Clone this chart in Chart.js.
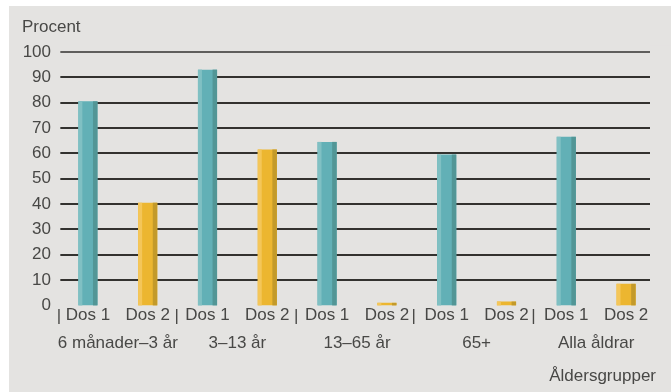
<!DOCTYPE html>
<html lang="sv">
<head>
<meta charset="utf-8">
<title>Vaccinationstäckning per åldersgrupp</title>
<script src="https://cdn.jsdelivr.net/npm/chart.js@4/dist/chart.umd.min.js"></script>
<style>
  html, body { margin: 0; padding: 0; background: #fff; }
  #wrap { width: 671px; height: 392px; }
</style>
</head>
<body>
<div id="wrap"><canvas id="chart" width="671" height="392"></canvas></div>
<script>
  // Dose under each bar, age group under each pair of bars
  const doseLabels = ["Dos 1", "Dos 2", "Dos 1", "Dos 2", "Dos 1", "Dos 2", "Dos 1", "Dos 2", "Dos 1", "Dos 2"];
  const ageGroups = ["6 månader–3 år", "3–13 år", "13–65 år", "65+", "Alla åldrar"];
  const percentValues = [80.5, 40.5, 93, 61.5, 64.5, 1, 59.5, 1.5, 66.5, 8.5];
  const yTicks = [0, 10, 20, 30, 40, 50, 60, 70, 80, 90, 100];

  const TEAL = { main: "#62b0b6", light: "#80c0c3", dark: "#529696" };
  const YELLOW = { main: "#ecb630", light: "#f4c659", dark: "#c39a2a" };
  const barTheme = (i) => (i % 2 === 0 ? TEAL : YELLOW);

  const PANEL = "#e4e3e1";
  const FONT = "'Liberation Sans', Arial, sans-serif";
  const TEXT = "#484846";
  const LABEL_FONT = { family: FONT, size: 17 };

  // Gray panel behind the whole chart
  const panel = {
    id: "panel",
    beforeDraw(chart) {
      const c = chart.ctx;
      c.save();
      c.fillStyle = PANEL;
      c.fillRect(9, 6, chart.width - 9, chart.height - 6);
      c.restore();
    },
  };

  // Horizontal rules at each y tick (none at 0, thin one at 100),
  // running from just left of the first bar to just right of the last
  const rules = {
    id: "rules",
    beforeDatasetsDraw(chart) {
      const c = chart.ctx;
      const y = chart.scales.y;
      const area = chart.chartArea;
      const bars = chart.getDatasetMeta(0).data;
      const first = bars[0];
      const last = bars[bars.length - 1];
      const x0 = first.x - first.width / 2 - 18;
      const x1 = Math.min(last.x + last.width / 2 + 15, chart.width - 21);
      c.save();
      c.strokeStyle = "#33322f";
      yTicks.forEach((v) => {
        if (v === 0) return;
        const py = Math.round(y.getPixelForValue(v));
        c.lineWidth = v === 100 ? 1.3 : 2.2;
        c.beginPath();
        c.moveTo(x0, py);
        c.lineTo(x1, py);
        c.stroke();
      });
      // keep the right margin of the plot clear
      c.fillStyle = PANEL;
      c.fillRect(x1, area.top - 6, chart.width - x1, area.bottom - area.top + 4);
      c.restore();
    },
  };

  // Light left edge and shaded right edge on every bar
  const bevel = {
    id: "bevel",
    afterDatasetsDraw(chart) {
      const c = chart.ctx;
      const meta = chart.getDatasetMeta(0);
      c.save();
      meta.data.forEach((bar, i) => {
        const t = barTheme(i);
        const left = bar.x - bar.width / 2;
        const right = bar.x + bar.width / 2;
        const h = bar.base - bar.y;
        c.fillStyle = t.light;
        c.fillRect(left, bar.y, 4, h);
        c.fillStyle = t.dark;
        c.fillRect(right - 4.5, bar.y, 4.5, h);
      });
      c.restore();
    },
  };

  // "|" between the age groups on the dose label row
  const separators = {
    id: "separators",
    afterDraw(chart) {
      const c = chart.ctx;
      const x = chart.scales.x;
      const step = x.getPixelForValue(1) - x.getPixelForValue(0);
      const labelY = x.top + 11;
      const nudge = [1, -1, -1, -3, -3];
      c.save();
      c.fillStyle = TEXT;
      c.font = "17px " + FONT;
      c.textAlign = "center";
      c.textBaseline = "middle";
      for (let i = 0; i < doseLabels.length - 1; i += 2) {
        const px = x.getPixelForValue(i) - step / 2 + nudge[i / 2];
        c.fillText("|", px, labelY);
      }
      c.restore();
    },
  };

  new Chart(document.getElementById("chart"), {
    type: "bar",
    data: {
      labels: doseLabels,
      datasets: [
        {
          data: percentValues,
          backgroundColor: percentValues.map((v, i) => barTheme(i).main),
          borderWidth: 0,
          barPercentage: 0.32,
          categoryPercentage: 1,
        },
      ],
    },
    options: {
      responsive: false,
      animation: false,
      layout: { padding: { left: 22, right: 15, top: 0, bottom: 0 } },
      plugins: {
        legend: { display: false },
        tooltip: { enabled: false },
        title: {
          display: true,
          text: "Procent",
          align: "start",
          color: TEXT,
          font: { family: FONT, size: 17, weight: "normal" },
          padding: { top: 17, bottom: 14.5 },
        },
      },
      scales: {
        x: {
          type: "category",
          grid: { display: false, drawTicks: false },
          border: { display: false },
          ticks: {
            color: TEXT,
            padding: 0,
            maxRotation: 0,
            autoSkip: false,
            font: LABEL_FONT,
          },
        },
        x2: {
          type: "category",
          position: "bottom",
          labels: ageGroups,
          grid: { display: false, drawTicks: false },
          border: { display: false },
          ticks: {
            color: TEXT,
            padding: 7.5,
            maxRotation: 0,
            autoSkip: false,
            font: LABEL_FONT,
          },
          title: {
            display: true,
            text: "Åldersgrupper",
            align: "end",
            color: TEXT,
            font: LABEL_FONT,
            padding: { top: 5.4, bottom: 5 },
          },
        },
        y: {
          min: 0,
          max: 100,
          afterFit(scale) {
            scale.width = 36;
          },
          afterBuildTicks(scale) {
            scale.ticks = yTicks.map((v) => ({ value: v }));
          },
          grid: { display: false, drawTicks: false },
          border: { display: false },
          ticks: {
            color: TEXT,
            padding: 7,
            font: LABEL_FONT,
          },
        },
      },
    },
    plugins: [panel, rules, bevel, separators],
  });
</script>
</body>
</html>
